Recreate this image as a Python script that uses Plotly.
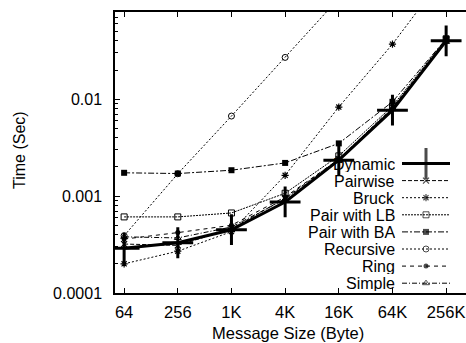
import plotly.graph_objects as go

# ---------------- data ----------------
categories = ["64", "256", "1K", "4K", "16K", "64K", "256K"]

dynamic   = [0.00029, 0.00033, 0.00045, 0.00087, 0.00235, 0.0077, 0.040]
pairwise  = [0.00032, 0.00031, 0.00046, 0.00095, 0.0024, 0.0082, 0.041]
bruck     = [0.00020, 0.00027, 0.00043, 0.00164, 0.0083, 0.037, 0.20]
pair_lb   = [0.00061, 0.00061, 0.00067, 0.00107, 0.0026, 0.0085, 0.042]
pair_ba   = [0.00174, 0.00171, 0.00185, 0.0022, 0.0035, 0.0094, 0.042]
recursive = [0.00039, 0.0017, 0.0067, 0.027, 0.11, 0.45, 1.8]
ring      = [0.00036, 0.00042, 0.00050, 0.00098, 0.0024, 0.0080, 0.040]
simple    = [0.00038, 0.00037, 0.00048, 0.00093, 0.0023, 0.0079, 0.039]

series_names = ["Dynamic", "Pairwise", "Bruck", "Pair with LB", "Pair with BA",
                "Recursive", "Ring", "Simple"]
series_values = [dynamic, pairwise, bruck, pair_lb, pair_ba, recursive, ring, simple]

y_tick_vals = [0.0001, 0.001, 0.01]
y_tick_text = ["0.0001", "0.001", "0.01"]

# ---------------- styles ----------------
styles = [
    dict(dash="solid", width=3, symbol="cross-thin", size=22, mlw=3),
    dict(dash="4px,2px", width=1, symbol="x-thin", size=6, mlw=1.2),
    dict(dash="2px,2px", width=1, symbol="asterisk", size=6, mlw=1.2),
    dict(dash="2px,1px", width=1, symbol="square-open", size=6, mlw=1),
    dict(dash="6px,2px,2px,2px", width=1, symbol="square", size=6, mlw=0),
    dict(dash="2px,2px", width=1, symbol="circle-open", size=6, mlw=1),
    dict(dash="4px,4px", width=1, symbol="circle", size=5, mlw=0),
    dict(dash="5px,2px,1px,2px", width=1, symbol="triangle-up-open", size=6, mlw=1),
]

FONT = "Liberation Sans, Arial, Helvetica, sans-serif"

fig = go.Figure()

for name, vals, st in zip(series_names, series_values, styles):
    fig.add_trace(go.Scatter(
        x=categories, y=vals, name=name, mode="lines+markers",
        line=dict(color="black", width=st["width"], dash=st["dash"]),
        marker=dict(symbol=st["symbol"], size=st["size"], color="black",
                    line=dict(color="black", width=st["mlw"])),
        showlegend=False,
    ))

# ---------------- custom legend (text left, sample right) ----------------
L_LEFT, L_RIGHT = 115, 466
P_TOP, P_BOTTOM = 12, 293
leg_text_x = 396
leg_line_x0, leg_line_x1 = 402, 450
leg_y0, leg_dy = 163.5, 17.1

for i, (name, st) in enumerate(zip(series_names, styles)):
    yy = leg_y0 + i * leg_dy
    fig.add_trace(go.Scatter(
        x=[leg_line_x0, (leg_line_x0 + leg_line_x1) / 2, leg_line_x1],
        y=[yy, yy, yy], xaxis="x2", yaxis="y2", mode="lines+markers",
        line=dict(color="black", width=st["width"], dash=st["dash"]),
        marker=dict(symbol=st["symbol"], size=[0, st["size"], 0], color="black",
                    line=dict(color="black", width=st["mlw"])),
        showlegend=False, hoverinfo="skip",
    ))
    fig.add_annotation(x=leg_text_x, y=yy, xref="x2", yref="y2", text=name,
                       showarrow=False, xanchor="right", yanchor="middle",
                       height=16, borderpad=0,
                       font=dict(family=FONT, size=16, color="black"))

# axis titles
fig.add_annotation(x=(19 - L_LEFT) / (L_RIGHT - L_LEFT), y=(P_BOTTOM - 150) / (P_BOTTOM - P_TOP),
                   xref="paper", yref="paper", text="Time (Sec)", textangle=-90,
                   xanchor="center", yanchor="middle",
                   showarrow=False, font=dict(family=FONT, size=16, color="black"))
fig.add_annotation(x=(288 - L_LEFT) / (L_RIGHT - L_LEFT), y=(P_BOTTOM - 333) / (P_BOTTOM - P_TOP),
                   xref="paper", yref="paper", text="Message Size (Byte)",
                   xanchor="center", yanchor="middle",
                   showarrow=False, font=dict(family=FONT, size=16.5, color="black"))

minor_vals = [m * 10 ** e for e in (-4, -3, -2) for m in range(2, 10)]

fig.update_layout(
    width=466, height=343,
    margin=dict(l=L_LEFT, r=466 - L_RIGHT, t=P_TOP, b=343 - P_BOTTOM),
    paper_bgcolor="white", plot_bgcolor="white",
    font=dict(family=FONT, size=16, color="black"),
    xaxis=dict(type="category", range=[-0.17, 6.37], showgrid=False, zeroline=False,
               showline=True, linecolor="black", linewidth=1.5, mirror="allticks",
               ticks="inside", ticklen=5, tickcolor="black", tickwidth=1,
               ticklabelstandoff=3, tickfont=dict(family=FONT, size=16.5)),
    yaxis=dict(type="log", range=[-4, -1.1], showgrid=False, zeroline=False,
               showline=True, linecolor="black", linewidth=1.5,
               tickmode="array", tickvals=y_tick_vals, ticktext=y_tick_text,
               ticks="inside", ticklen=5, tickcolor="black", tickwidth=1,
               ticklabelstandoff=8, tickfont=dict(family=FONT, size=16),
               minor=dict(tickmode="array", tickvals=minor_vals, ticks="inside",
                          ticklen=3, tickcolor="black", showgrid=False)),
    xaxis2=dict(overlaying="x", range=[L_LEFT, L_RIGHT], visible=False, anchor="y2"),
    yaxis2=dict(overlaying="y", range=[P_BOTTOM, P_TOP], visible=False, anchor="x2"),
)

fig.write_html("out.html")
